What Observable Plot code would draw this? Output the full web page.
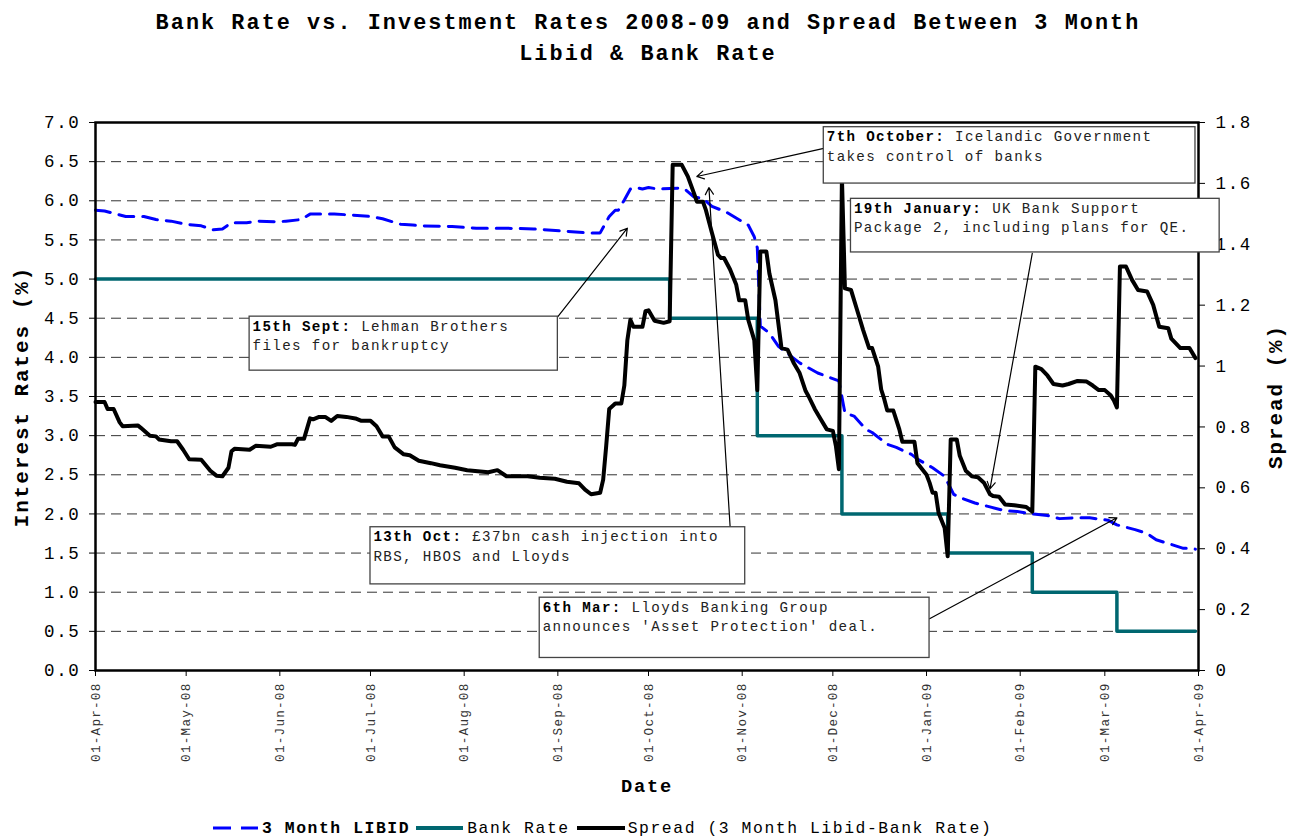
<!DOCTYPE html>
<html>
<head>
<meta charset="utf-8">
<script src="https://cdn.jsdelivr.net/npm/d3@7"></script>
<script src="https://cdn.jsdelivr.net/npm/@observablehq/plot@0.6"></script>
<style>
  body { margin: 0; background: #fff; }
  #wrap { position: relative; width: 1296px; height: 836px; overflow: hidden; background: #fff;
          font-family: "Liberation Mono", "Courier New", monospace; }
  #chart { position: absolute; left: 0; top: 0; }
  #title { position: absolute; left: 0; top: 8px; width: 1296px; text-align: center; font-weight: bold;
           font-size: 21.8px; line-height: 31px; color: #000; }
  #legend { position: absolute; left: 213px; top: 816px; height: 24px; display: flex; align-items: center;
            font-size: 16.4px; color: #000; white-space: nowrap; }
  #legend svg { display: block; }
  svg text, #title, #legend span { letter-spacing: 0.095em; }
</style>
</head>
<body>
<div id="wrap">
  <div id="chart"></div>
  <div id="title"></div>
  <div id="legend"></div>
</div>
<script>
// ---------------- data ----------------
const titleLines = ["Bank Rate vs. Investment Rates 2008-09 and Spread Between 3 Month", "Libid & Bank Rate"];
const seriesNames = ["3 Month LIBID", "Bank Rate", "Spread (3 Month Libid-Bank Rate)"];

const libidDates = ["2008-04-01","2008-04-04","2008-04-08","2008-04-11","2008-04-17","2008-04-21","2008-04-26",
  "2008-05-01","2008-05-06","2008-05-10","2008-05-13","2008-05-16","2008-05-21","2008-05-25","2008-05-31",
  "2008-06-03","2008-06-08","2008-06-11","2008-06-19","2008-06-24",
  "2008-07-01","2008-07-05","2008-07-11","2008-07-15","2008-07-18","2008-07-28",
  "2008-08-05","2008-08-14","2008-08-24",
  "2008-09-04","2008-09-11","2008-09-15","2008-09-18","2008-09-20","2008-09-21","2008-09-23","2008-09-25","2008-09-27","2008-09-29",
  "2008-10-01","2008-10-04","2008-10-11","2008-10-13","2008-10-16","2008-10-19","2008-10-22","2008-10-27","2008-10-30",
  "2008-11-03","2008-11-05","2008-11-06","2008-11-07","2008-11-10","2008-11-13","2008-11-16","2008-11-20","2008-11-26",
  "2008-12-03","2008-12-05","2008-12-08","2008-12-12","2008-12-14","2008-12-19","2008-12-22","2008-12-27","2008-12-29",
  "2009-01-03","2009-01-07","2009-01-10","2009-01-12","2009-01-17","2009-01-21","2009-01-27","2009-01-31",
  "2009-02-05","2009-02-10","2009-02-14","2009-02-19","2009-02-24",
  "2009-03-02","2009-03-05","2009-03-08","2009-03-11","2009-03-15","2009-03-18","2009-03-23","2009-03-27","2009-03-29","2009-03-31"];
const libidValues = [5.88,5.87,5.83,5.80,5.80,5.76,5.74,
  5.70,5.68,5.63,5.64,5.72,5.72,5.74,5.73,
  5.74,5.76,5.83,5.83,5.82,
  5.80,5.77,5.70,5.69,5.68,5.67,
  5.65,5.65,5.64,
  5.61,5.59,5.59,5.80,5.88,5.88,6.01,6.15,6.17,6.15,
  6.17,6.15,6.16,6.15,6.05,6.03,5.93,5.85,5.78,
  5.69,5.54,5.40,4.40,4.31,4.14,4.05,3.93,3.80,
  3.70,3.29,3.25,3.08,3.04,2.89,2.85,2.76,2.70,
  2.59,2.48,2.25,2.21,2.14,2.10,2.04,2.03,
  2.00,1.98,1.94,1.95,1.95,
  1.92,1.86,1.83,1.80,1.75,1.67,1.61,1.56,1.56,1.55];

const bankDates = ["2008-04-01","2008-10-08","2008-11-06","2008-12-04","2009-01-08","2009-02-05","2009-03-05","2009-03-31"];
const bankValues = [5.0, 4.5, 3.0, 2.0, 1.5, 1.0, 0.5, 0.5];

const spreadDates = ["2008-04-01","2008-04-04","2008-04-05","2008-04-07","2008-04-09","2008-04-10","2008-04-15","2008-04-16","2008-04-19","2008-04-21","2008-04-22","2008-04-26","2008-04-28","2008-04-30",
  "2008-05-02","2008-05-06","2008-05-09","2008-05-11","2008-05-13","2008-05-15","2008-05-16","2008-05-17","2008-05-22","2008-05-24","2008-05-29","2008-05-31",
  "2008-06-05","2008-06-06","2008-06-07","2008-06-09","2008-06-11","2008-06-12","2008-06-14","2008-06-16","2008-06-18","2008-06-20","2008-06-23","2008-06-26","2008-06-28",
  "2008-07-01","2008-07-03","2008-07-05","2008-07-07","2008-07-09","2008-07-12","2008-07-14","2008-07-17","2008-07-21","2008-07-24","2008-07-29",
  "2008-08-02","2008-08-09","2008-08-12","2008-08-15","2008-08-22","2008-08-26","2008-08-31",
  "2008-09-04","2008-09-08","2008-09-10","2008-09-12","2008-09-15","2008-09-16","2008-09-17","2008-09-18","2008-09-20","2008-09-22","2008-09-23","2008-09-24","2008-09-25","2008-09-26","2008-09-29","2008-09-30",
  "2008-10-01","2008-10-03","2008-10-06","2008-10-08","2008-10-09","2008-10-12","2008-10-14","2008-10-16","2008-10-17","2008-10-19","2008-10-20","2008-10-22","2008-10-24","2008-10-25","2008-10-26","2008-10-28","2008-10-30","2008-10-31",
  "2008-11-02","2008-11-03","2008-11-05","2008-11-06","2008-11-07","2008-11-09","2008-11-10","2008-11-12","2008-11-14","2008-11-16","2008-11-18","2008-11-20","2008-11-22","2008-11-23","2008-11-25","2008-11-27","2008-11-29",
  "2008-12-01","2008-12-02","2008-12-03","2008-12-04","2008-12-05","2008-12-07","2008-12-09","2008-12-11","2008-12-13","2008-12-14","2008-12-16","2008-12-17","2008-12-18","2008-12-19","2008-12-21","2008-12-23","2008-12-24","2008-12-28","2008-12-29",
  "2009-01-01","2009-01-02","2009-01-03","2009-01-04","2009-01-05","2009-01-07","2009-01-08","2009-01-09","2009-01-11","2009-01-12","2009-01-14","2009-01-16","2009-01-18","2009-01-20","2009-01-22","2009-01-23","2009-01-25","2009-01-27","2009-01-30",
  "2009-02-03","2009-02-05","2009-02-06","2009-02-08","2009-02-10","2009-02-12","2009-02-15","2009-02-17","2009-02-20","2009-02-23","2009-02-25","2009-02-27",
  "2009-03-01","2009-03-03","2009-03-04","2009-03-05","2009-03-06","2009-03-08","2009-03-10","2009-03-12","2009-03-15","2009-03-17","2009-03-19","2009-03-22","2009-03-23","2009-03-26","2009-03-29","2009-03-31"];
const spreadValues = [0.882,0.882,0.859,0.859,0.815,0.802,0.805,0.797,0.771,0.769,0.759,0.753,0.753,0.725,
  0.694,0.692,0.656,0.640,0.638,0.666,0.720,0.728,0.725,0.738,0.735,0.743,
  0.743,0.741,0.761,0.761,0.828,0.825,0.833,0.833,0.820,0.836,0.833,0.828,0.820,
  0.820,0.802,0.769,0.769,0.733,0.710,0.707,0.689,0.681,0.674,0.666,
  0.658,0.651,0.658,0.638,0.638,0.633,0.630,
  0.620,0.615,0.594,0.579,0.584,0.627,0.738,0.859,0.877,0.877,0.936,1.085,1.152,1.129,1.129,1.180,
  1.183,1.149,1.142,1.147,1.661,1.661,1.623,1.569,1.540,1.540,1.512,1.437,1.365,1.355,1.355,1.317,1.268,1.216,
  1.216,1.152,1.085,0.921,1.376,1.376,1.304,1.216,1.059,1.054,1.011,0.977,0.918,0.900,0.859,0.825,0.792,
  0.787,0.738,0.661,1.620,1.255,1.250,1.185,1.119,1.059,1.059,0.998,0.923,0.892,0.854,0.854,0.792,0.751,0.751,0.681,
  0.643,0.617,0.584,0.584,0.517,0.468,0.375,0.759,0.759,0.705,0.656,0.638,0.635,0.617,0.579,0.573,0.571,0.545,0.543,
  0.537,0.522,0.998,0.990,0.969,0.941,0.936,0.941,0.951,0.949,0.936,0.921,
  0.921,0.903,0.887,0.864,1.327,1.327,1.283,1.250,1.245,1.201,1.129,1.124,1.090,1.059,1.059,1.026];

const leftTicks = [0,0.5,1,1.5,2,2.5,3,3.5,4,4.5,5,5.5,6,6.5,7];
const gridTicks = [0.5,1,1.5,2,2.5,3,3.5,4,4.5,5,5.5,6,6.5];
const rightTicks = [0,0.2,0.4,0.6,0.8,1,1.2,1.4,1.6,1.8];
const monthTicks = ["2008-04-01","2008-05-01","2008-06-01","2008-07-01","2008-08-01","2008-09-01","2008-10-01",
  "2008-11-01","2008-12-01","2009-01-01","2009-02-01","2009-03-01","2009-04-01"];

// annotation boxes anchored in data coordinates (date, interest rate)
const annotations = [
  {label: "15th Sept:", line1: "Lehman Brothers", line2: "files for bankruptcy",
   x1: "2008-05-22", x2: "2008-09-01", y1: 4.52, y2: 3.83, ax1: "2008-09-01", ay1: 4.52, ax2: "2008-09-24", ay2: 5.65},
  {label: "7th October:", line1: "Icelandic Government", line2: "takes control of banks",
   x1: "2008-11-28", x2: "2009-03-31", y1: 6.94, y2: 6.22, ax1: "2008-11-28", ay1: 6.67, ax2: "2008-10-17", ay2: 6.31},
  {label: "19th January:", line1: "UK Bank Support", line2: "Package 2, including plans for QE.",
   x1: "2008-12-07", x2: "2009-04-08", y1: 6.025, y2: 5.34, ax1: "2009-02-05", ay1: 5.33, ax2: "2009-01-22", ay2: 2.32},
  {label: "13th Oct:", line1: "£37bn cash injection into", line2: "RBS, HBOS and Lloyds",
   x1: "2008-07-01", x2: "2008-11-02", y1: 1.83, y2: 1.10, ax1: "2008-10-28", ay1: 1.84, ax2: "2008-10-21", ay2: 6.17},
  {label: "6th Mar:", line1: "Lloyds Banking Group", line2: "announces 'Asset Protection' deal.",
   x1: "2008-08-26", x2: "2009-01-02", y1: 0.93, y2: 0.16, ax1: "2009-01-02", ay1: 0.66, ax2: "2009-03-05", ay2: 1.95}
];

// ---------------- build ----------------
const parse = d3.utcParse("%Y-%m-%d");
const k = 7 / 1.8; // spread (right axis) -> interest-rate (left axis) units
const libid = libidDates.map((d, i) => ({date: parse(d), value: libidValues[i]}));
const bank = bankDates.map((d, i) => ({date: parse(d), value: bankValues[i]}));
const spread = spreadDates.map((d, i) => ({date: parse(d), value: spreadValues[i]}));
const ann = annotations.map(a => ({
  ...a,
  x1: parse(a.x1), x2: parse(a.x2), ax1: parse(a.ax1), ax2: parse(a.ax2)
}));

const FONT = "Liberation Mono, Courier New, monospace";
const teal = "#006770";
const annSize = 14.2;
const charW = annSize * (0.6 + 0.095); // monospace advance incl. letter-spacing
const annLine = 19.5;

const annTextMarks = ann.flatMap(a => [
  Plot.text([a], {x: "x1", y: "y1", text: "label", textAnchor: "start", lineAnchor: "top", dx: 3, dy: 4,
    fontWeight: "bold", fontSize: annSize, fill: "#000"}),
  Plot.text([a], {x: "x1", y: "y1", text: "line1", textAnchor: "start", lineAnchor: "top",
    dx: 3 + (a.label.length + 1) * charW, dy: 4, fontSize: annSize, fill: "#222"}),
  Plot.text([a], {x: "x1", y: "y1", text: "line2", textAnchor: "start", lineAnchor: "top",
    dx: 3, dy: 4 + annLine, fontSize: annSize, fill: "#222"})
]);

const chart = Plot.plot({
  width: 1296,
  height: 836,
  marginLeft: 95,
  marginRight: 98,
  marginTop: 122,
  marginBottom: 166,
  style: {fontFamily: FONT, background: "transparent", color: "#000"},
  x: {type: "utc", domain: [parse("2008-04-01"), parse("2009-04-01")]},
  y: {domain: [0, 7]},
  marks: [
    Plot.ruleY(gridTicks, {stroke: "#333", strokeWidth: 1, strokeDasharray: "10,6"}),
    Plot.line(bank, {x: "date", y: "value", curve: "step-after", stroke: teal, strokeWidth: 3.5}),
    Plot.line(libid, {x: "date", y: "value", stroke: "#0000ff", strokeWidth: 3, strokeDasharray: "15,9"}),
    Plot.line(spread, {x: "date", y: d => d.value * k, stroke: "#000", strokeWidth: 4, strokeLinejoin: "round"}),
    Plot.frame({stroke: "#000", strokeWidth: 2.5}),
    Plot.axisY({anchor: "left", ticks: leftTicks, tickFormat: d3.format(".1f"), tickSize: 6, tickPadding: 9,
      fontSize: 17.5, label: null, stroke: "#000"}),
    Plot.axisY({anchor: "right", ticks: rightTicks.map(v => v * k), tickFormat: d => d3.format("~g")(+(d / k).toFixed(2)),
      tickSize: 6, tickPadding: 11, fontSize: 17.5, label: null}),
    Plot.axisX({anchor: "bottom", ticks: monthTicks.map(parse), tickFormat: d3.utcFormat("%d-%b-%y"), tickRotate: -90,
      tickSize: 6, tickPadding: 6, fontSize: 12.7, label: null, fill: "#333"}),
    Plot.text(["Interest Rates (%)"], {frameAnchor: "left", textAnchor: "middle", dx: -74, rotate: -90,
      fontWeight: "bold", fontSize: 20.9}),
    Plot.text(["Spread (%)"], {frameAnchor: "right", textAnchor: "middle", dx: 77, rotate: -90,
      fontWeight: "bold", fontSize: 20.9}),
    Plot.text(["Date"], {frameAnchor: "bottom", dy: 121, fontWeight: "bold", fontSize: 18.7}),
    // annotations
    Plot.arrow(ann, {x1: "ax1", y1: "ay1", x2: "ax2", y2: "ay2", stroke: "#000", strokeWidth: 1.2, headLength: 10, bend: 0}),
    Plot.rect(ann, {x1: "x1", x2: "x2", y1: "y1", y2: "y2", fill: "#fff", stroke: "#444", strokeWidth: 1.3}),
    ...annTextMarks
  ]
});
document.getElementById("chart").appendChild(chart);

// title
const titleEl = document.getElementById("title");
titleEl.innerHTML = titleLines.map(t => `<div>${t.replace(/&/g, "&amp;")}</div>`).join("");

// legend
const legendEl = document.getElementById("legend");
const swatch = (color, width, dash, w) =>
  `<svg width="${w}" height="10"><line x1="0" y1="5" x2="${w}" y2="5" stroke="${color}" stroke-width="${width}" ${dash ? `stroke-dasharray="${dash}"` : ""}/></svg>`;
legendEl.innerHTML =
  swatch("#0000ff", 3, "18,10", 45) + `<span style="font-weight:bold;margin:0 6px 0 4px">${seriesNames[0]}</span>` +
  swatch(teal, 4, null, 47) + `<span style="margin:0 7px 0 4px">${seriesNames[1]}</span>` +
  swatch("#000", 4, null, 48) + `<span style="margin:0 0 0 3px">${seriesNames[2]}</span>`;
</script>
</body>
</html>
